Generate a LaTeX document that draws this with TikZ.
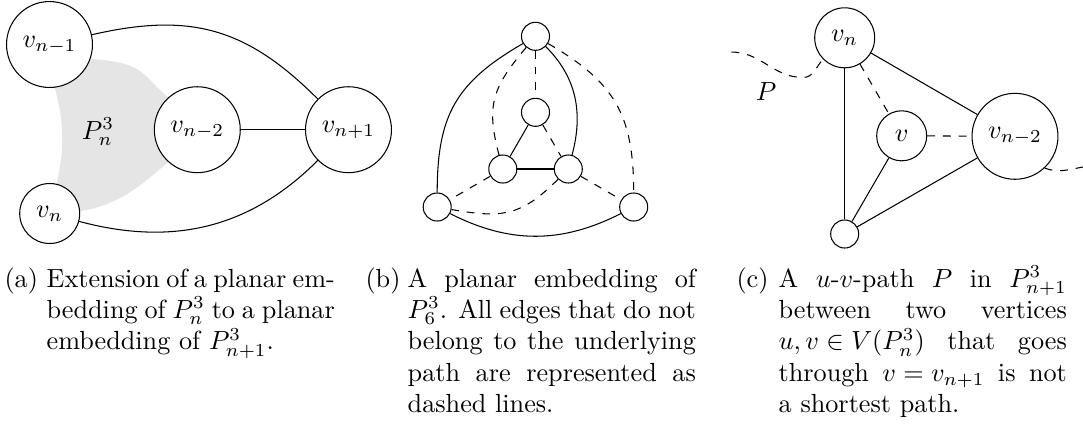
\documentclass[tikz,border=0pt]{standalone}
\begin{document}
\begin{tikzpicture}[x=0.3817pt,y=-0.3817pt,
  vb/.style={circle,draw,fill=white,inner sep=0pt,minimum size=32.8pt},
  vm/.style={circle,draw,fill=white,inner sep=0pt,minimum size=22.9pt},
  vs/.style={circle,draw,fill=white,inner sep=0pt,minimum size=19.1pt},
  vd/.style={circle,draw,fill=white,inner sep=0pt,minimum size=10.7pt},
  captxt/.style={anchor=base west,inner sep=0pt},
  blob/.style={fill=black!10,draw=none}]
\useasboundingbox (0,0) rectangle (1083,427);

% ---------- (a) ----------
\fill[blob] plot[smooth cycle,tension=0.6] coordinates {(50,60) (92,59) (133,67) (162,92) (200,130) (166,164) (122,197) (80,211) (50,205) (57,182) (62,150) (61,118) (56,92)};
\node[vb] (a1) at (49.5,44.5) {$v_{n-1}$};
\node[vb] (a2) at (197.3,129.7) {$v_{n-2}$};
\node[vb] (a3) at (348.5,129.7) {$v_{n+1}$};
\node[vm] (a4) at (49.7,213.5) {$v_n$};
\node (pl) at (98,132) {$P_n^3$};
\draw (a2) -- (a3);
\draw (a1) to[out=13,in=135,looseness=1.1] (a3);
\draw (a4) to[out=-15,in=225] (a3);

% ---------- (b) ----------
\node[vd] (bt) at (535.5,36.3) {};
\node[vd] (bm) at (535.5,112.3) {};
\node[vd] (bl) at (502.8,169) {};
\node[vd] (br) at (568.3,169) {};
\node[vd] (bL) at (437.2,207) {};
\node[vd] (bR) at (633.7,207) {};
\draw (bt) to[out=210,in=90,looseness=1.15] (bL);
\draw (bt) to[out=-45,in=75] (br);
\draw (bm) -- (bl);
\draw (bl) -- (br);
\draw (bL) to[out=-27,in=207] (bR);
\draw[dashed] (bt) -- (bm);
\draw[dashed] (bm) -- (br);
\draw[dashed] (bl) -- (bL);
\draw[dashed] (br) -- (bR);
\draw[dashed] (bt) to[out=230,in=105,looseness=1.2] (bl);
\draw[dashed] (bt) to[out=-30,in=90,looseness=1.15] (bR);
\draw[dashed] (br) to[out=225,in=-10,looseness=1.2] (bL);

% ---------- (c) ----------
\node[vm] (cn) at (844.7,37.8) {$v_n$};
\node[vs] (cv) at (901.7,135.8) {$v$};
\node[vb] (cm) at (1015,136.3) {$v_{n-2}$};
\node[vd] (cb) at (844.7,234) {};
\draw (cn) -- (cb);
\draw (cn) -- (cm);
\draw (cb) -- (cv);
\draw (cb) -- (cm);
\draw[dashed] (cn) -- (cv);
\draw[dashed] (cv) -- (cm);
\coordinate (pA) at (731.5,52);
\coordinate (pB) at (803,77.5);
\coordinate (pC) at (1083,167);
\draw[dashed] (pA) to[out=0,in=180] (pB) to[out=0,in=225] (cn);
\draw[dashed] (cm.-47) to[out=-20,in=190] (pC);
\node (pp) at (766,92) {$P$};

% ---------- captions ----------
\node[captxt] (capa) at (4,287) {\makebox[16.1pt][l]{(a)}\parbox[t]{110pt}{Extension of a planar em-\linebreak bedding of $P_n^3$ to a planar\linebreak embedding of $P_{n+1}^3$.}};
\node[captxt] (capb) at (365,287) {\makebox[16.1pt][l]{(b)}\parbox[t]{110pt}{A planar embedding of\linebreak $P_6^3$. All edges that do not\linebreak belong to the underlying\linebreak path are represented as\linebreak dashed lines.}};
\node[captxt] (capc) at (736,287) {\makebox[16.1pt][l]{(c)}\parbox[t]{110pt}{A $u$-$v$-path $P$ in $P_{n+1}^3$\linebreak between two vertices\linebreak ${u,v\in V(P_n^3)}$ that goes\linebreak through ${v=v_{n+1}}$ is not\linebreak a shortest path.}};
\end{tikzpicture}
\end{document}
